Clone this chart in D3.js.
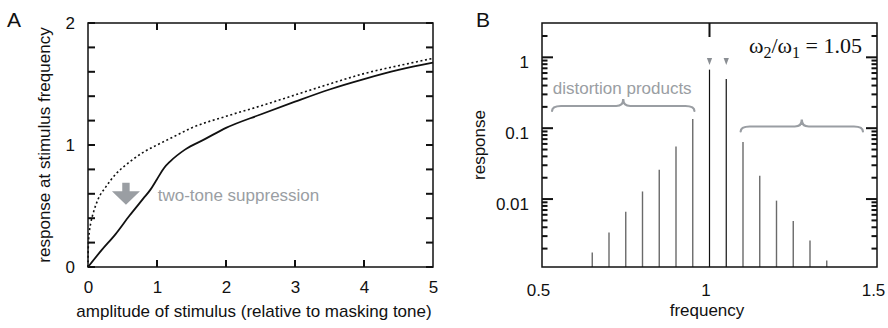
<!DOCTYPE html>
<html><head><meta charset="utf-8">
<script src="https://cdn.jsdelivr.net/npm/d3@7"></script>
<style>body{margin:0;background:#fff}svg{display:block}</style>
</head><body>
<svg id="c" width="888" height="328"></svg>
<script>
// ---- Panel A data ----
const ampX      = [0, 0.005, 0.02, 0.04, 0.08, 0.15, 0.25, 0.4, 0.6, 0.8, 1.0, 1.25, 1.5, 2.0, 2.5, 3.0, 3.5, 4.0, 4.5, 5.0];
const dottedY   = [0, 0.18, 0.29, 0.36, 0.45, 0.56, 0.65, 0.76, 0.86, 0.94, 1.0, 1.07, 1.14, 1.235, 1.32, 1.41, 1.50, 1.585, 1.65, 1.71];
const solidX    = [0, 0.2, 0.4, 0.6, 0.8, 0.9, 1.0, 1.1, 1.2, 1.4, 1.7, 2.0, 2.5, 3.0, 3.5, 4.0, 4.5, 5.0];
const solidY    = [0, 0.14, 0.27, 0.42, 0.56, 0.63, 0.72, 0.81, 0.87, 0.96, 1.05, 1.14, 1.25, 1.355, 1.455, 1.54, 1.615, 1.675];
const aXTicks   = [0, 1, 2, 3, 4, 5];
const aYTicks   = [0, 1, 2];

// ---- Panel B data ----
const freqs     = [0.65, 0.70, 0.75, 0.80, 0.85, 0.90, 0.95, 1.00, 1.05, 1.10, 1.15, 1.20, 1.25, 1.30, 1.35];
const responses = [0.00176, 0.00337, 0.0066, 0.0128, 0.0259, 0.055, 0.135, 0.67, 0.495, 0.064, 0.0213, 0.0095, 0.0049, 0.0026, 0.00136];
const primaries = [1.00, 1.05];
const bXTicks   = [0.5, 1, 1.5];
const bXLabels  = ["0.5", "1", "1.5"];
const bYTicks   = [0.01, 0.1, 1];
const bYLabels  = ["0.01", "0.1", "1"];

const svg = d3.select("#c");
const FONT = "'Liberation Sans', Arial, Helvetica, sans-serif";
const INK = "#111111", GRAY = "#9a9ea3";

svg.append("rect").attr("width", 888).attr("height", 328).attr("fill", "#ffffff");

function frame(g, x0, x1, y0, y1) {
  g.append("rect").attr("x", x0).attr("y", y0).attr("width", x1 - x0).attr("height", y1 - y0)
    .attr("fill", "none").attr("stroke", INK).attr("stroke-width", 1.5);
}
// inward ticks, drawn as thin filled rects through the scales
function vTicks(g, scale, values, xEdge, len) {
  g.append("g").selectAll("rect").data(values).join("rect")
    .attr("x", len > 0 ? xEdge : xEdge + len).attr("width", Math.abs(len))
    .attr("y", d => scale(d) - 1).attr("height", 2).attr("fill", INK);
}
function hTicks(g, scale, values, yEdge, len) {
  g.append("g").selectAll("rect").data(values).join("rect")
    .attr("y", len > 0 ? yEdge : yEdge + len).attr("height", Math.abs(len))
    .attr("x", d => scale(d) - 1).attr("width", 2).attr("fill", INK);
}
function styleText(sel) {
  sel.select(".domain").remove();
  sel.selectAll("line").remove();
  sel.selectAll("text").attr("font-family", FONT).attr("font-size", 17).attr("fill", INK);
}

// ================= Panel A =================
const xA = d3.scaleLinear([0, 5], [88, 433]);
const yA = d3.scaleLinear([0, 2], [267, 23]);
const gA = svg.append("g");

const yMinor = d3.range(0, 2.001, 0.2);
frame(gA, xA(0), xA(5), yA(2), yA(0));
vTicks(gA, yA, yMinor, xA(0), 7);
vTicks(gA, yA, yMinor, xA(5), -7);
hTicks(gA, xA, aXTicks.slice(1, -1), yA(2), 7);
hTicks(gA, xA, aXTicks.slice(1, -1), yA(0), -7);
gA.append("g").attr("transform", `translate(${xA(0)},0)`)
  .call(d3.axisLeft(yA).tickValues(aYTicks).tickSize(0).tickPadding(13).tickFormat(d3.format("d"))).call(styleText);
gA.append("g").attr("transform", `translate(0,${yA(0)})`)
  .call(d3.axisBottom(xA).tickValues(aXTicks).tickSize(0).tickPadding(14).tickFormat(d3.format("d"))).call(styleText);

const lineA = d3.line().x(d => xA(d[0])).y(d => yA(d[1])).curve(d3.curveMonotoneX);
gA.append("path").datum(ampX.map((x, i) => [x, dottedY[i]])).attr("d", lineA)
  .attr("fill", "none").attr("stroke", INK).attr("stroke-width", 1.6).attr("stroke-dasharray", "2,2.6");
gA.append("path").datum(solidX.map((x, i) => [x, solidY[i]])).attr("d", lineA)
  .attr("fill", "none").attr("stroke", INK).attr("stroke-width", 1.8);

// suppression arrow
{
  const cx = xA(0.55), top = yA(0.69);
  const p = d3.path();
  p.moveTo(cx - 3.7, top); p.lineTo(cx + 3.7, top); p.lineTo(cx + 3.7, top + 8.5);
  p.lineTo(cx + 14, top + 8.5); p.lineTo(cx, top + 22); p.lineTo(cx - 14, top + 8.5);
  p.lineTo(cx - 3.7, top + 8.5); p.closePath();
  gA.append("path").attr("d", p.toString()).attr("fill", GRAY);
  gA.append("text").attr("x", xA(1.01)).attr("y", yA(0.54)).text("two-tone suppression")
    .attr("font-family", FONT).attr("font-size", 17).attr("fill", GRAY);
}

gA.append("text").attr("transform", `translate(50,${(yA(0) + yA(2)) / 2}) rotate(-90)`)
  .attr("text-anchor", "middle").attr("font-family", FONT).attr("font-size", 17).attr("fill", INK)
  .text("response at stimulus frequency");
gA.append("text").attr("x", 254).attr("y", 317).attr("text-anchor", "middle")
  .attr("font-family", FONT).attr("font-size", 17).attr("fill", INK)
  .text("amplitude of stimulus (relative to masking tone)");
svg.append("text").attr("x", 7).attr("y", 27).text("A").attr("font-family", FONT).attr("font-size", 21).attr("fill", INK);

// ================= Panel B =================
const xB = d3.scaleLinear([0.5, 1.5], [542, 877]);
const yB = d3.scaleLog([0.0011, 3.05], [267, 23]);
const gB = svg.append("g");
const [bBot, bTop] = yB.range();

const minorB = [];
[0.001, 0.01, 0.1, 1].forEach(dec => { for (let k = 2; k <= 9; k++) { const v = dec * k; if (v > 0.0011 && v < 3.0) minorB.push(v); } });

// bars
gB.append("g").selectAll("line").data(freqs.map((f, i) => ({ f, r: responses[i] }))).join("line")
  .attr("x1", d => xB(d.f)).attr("x2", d => xB(d.f))
  .attr("y1", bBot).attr("y2", d => yB(d.r))
  .attr("stroke", d => primaries.includes(d.f) ? "#111" : "#6a6a6a")
  .attr("stroke-width", d => primaries.includes(d.f) ? 1.2 : 1.4);

frame(gB, xB(0.5), xB(1.5), bTop, bBot);
vTicks(gB, yB, minorB, xB(0.5), 5.5);
vTicks(gB, yB, minorB, xB(1.5), -5.5);
vTicks(gB, yB, bYTicks, xB(0.5), 11);
vTicks(gB, yB, bYTicks, xB(1.5), -11);
hTicks(gB, xB, [1], bTop, 14);
gB.append("g").attr("transform", `translate(${xB(0.5)},0)`)
  .call(d3.axisLeft(yB).tickValues(bYTicks).tickSize(0).tickPadding(13).tickFormat((d, i) => bYLabels[i])).call(styleText)
  .selectAll("text").attr("dy", "0.6em");
gB.append("g").attr("transform", `translate(0,${bBot})`)
  .call(d3.axisBottom(xB).tickValues(bXTicks).tickSize(0).tickPadding(17).tickFormat((d, i) => bXLabels[i])).call(styleText)
  .selectAll("text").attr("dx", -4);

// primary markers (small triangles)
gB.append("g").selectAll("path").data(primaries).join("path")
  .attr("d", f => { const x = xB(f), y = 58; return `M${x - 2.6},${y}L${x + 2.6},${y}L${x},${y + 7}Z`; })
  .attr("fill", "#8a8e93");

// braces
function brace(f0, f1, yLine) {
  const x0 = xB(f0), x1 = xB(f1), xc = (x0 + x1) / 2;
  const tip = yLine + 5, peak = yLine - 7;
  const p = d3.path();
  p.moveTo(x0, tip); p.quadraticCurveTo(x0, yLine, x0 + 9, yLine);
  p.lineTo(xc - 7, yLine); p.quadraticCurveTo(xc, yLine, xc, peak);
  p.quadraticCurveTo(xc, yLine, xc + 7, yLine);
  p.lineTo(x1 - 9, yLine); p.quadraticCurveTo(x1, yLine, x1, tip);
  gB.append("path").attr("d", p.toString()).attr("fill", "none").attr("stroke", GRAY)
    .attr("stroke-width", 2.2).attr("stroke-linecap", "round");
}
brace(0.530, 0.955, 106);
brace(1.093, 1.458, 126.5);
gB.append("text").attr("x", xB(0.532)).attr("y", 94).text("distortion products")
  .attr("font-family", FONT).attr("font-size", 17).attr("fill", GRAY);

// ratio label
{
  const t = gB.append("text").attr("x", 749).attr("y", 53)
    .attr("font-family", "'Liberation Serif', 'Times New Roman', serif").attr("font-size", 22).attr("fill", INK);
  t.append("tspan").text("ω");
  t.append("tspan").text("2").attr("font-size", 16).attr("dy", 5);
  t.append("tspan").text("/ω").attr("dy", -5);
  t.append("tspan").text("1").attr("font-size", 16).attr("dy", 5);
  t.append("tspan").text(" = 1.05").attr("dy", -5);
}

gB.append("text").attr("transform", `translate(485,${(bBot + bTop) / 2}) rotate(-90)`)
  .attr("text-anchor", "middle").attr("font-family", FONT).attr("font-size", 17).attr("fill", INK)
  .text("response");
gB.append("text").attr("x", 707).attr("y", 316).attr("text-anchor", "middle")
  .attr("font-family", FONT).attr("font-size", 17).attr("fill", INK).text("frequency");
svg.append("text").attr("x", 476).attr("y", 27).text("B").attr("font-family", FONT).attr("font-size", 21).attr("fill", INK);
</script>
</body></html>
